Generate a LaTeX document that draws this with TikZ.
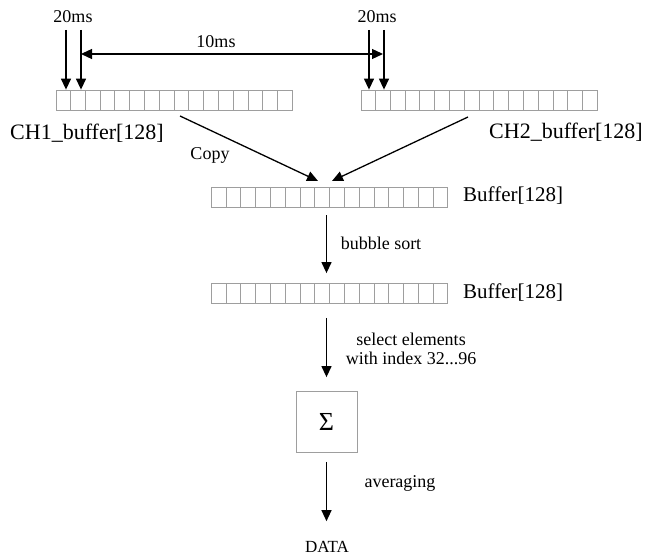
\documentclass[tikz,border=0pt]{standalone}
\usepackage{fontspec}
\setmainfont{Liberation Serif}
\usetikzlibrary{arrows.meta,calc}
\tikzset{
  bufbox/.style={draw=black!38, line width=0.8pt, minimum width=236pt, minimum height=20pt, inner sep=0pt},
  cellline/.style={draw=black!38, line width=0.8pt},
  arr/.style={line width=1.3pt, -{Triangle[length=11pt,width=10pt]}},
  arrb/.style={line width=1.3pt, {Triangle[length=11pt,width=10pt]}-{Triangle[length=11pt,width=10pt]}},
  biglbl/.style={font=\fontsize{22}{24}\selectfont, inner sep=0pt},
  lbl/.style={font=\fontsize{18}{19}\selectfont, inner sep=0pt, align=center},
  sigbox/.style={draw=black!38, line width=0.8pt, minimum size=61pt, inner sep=0pt}
}
\begin{document}
\begin{tikzpicture}[x=1pt,y=-1pt]
\useasboundingbox (0,0) rectangle (651,556);
% buffers
\node[bufbox] (b1) at (174,100) {};
\node[bufbox] (b2) at (479,100) {};
\node[bufbox] (b3) at (329.5,197) {};
\node[bufbox] (b4) at (329.5,293.5) {};
\foreach \b in {b1,b2,b3,b4}{
  \foreach \i in {1,...,15}{
    \draw[cellline] ($(\b.south west)!\i/16!(\b.south east)$) -- ($(\b.north west)!\i/16!(\b.north east)$);
  }
}
% sigma box
\node[sigbox, font=\fontsize{26}{28}\selectfont] (sig) at (326.5,422) {Σ};
% labels
\node[biglbl] (l1) at (87,133) {CH1\_buffer[128]};
\node[biglbl] (l2) at (566,132) {CH2\_buffer[128]};
\node[biglbl, anchor=west, font=\fontsize{21}{23}\selectfont] (l3) at (463,196) {Buffer[128]};
\node[biglbl, anchor=west, font=\fontsize{21}{23}\selectfont] (l4) at (463,293) {Buffer[128]};
\node[lbl] (ms1) at (73,17) {20ms};
\node[lbl] (ms2) at (377,17) {20ms};
\node[lbl] (ms3) at (216,42) {10ms};
\node[lbl] (cp) at (210,155) {Copy};
\node[lbl] (bs) at (381,243) {bubble sort};
\node[lbl] (se) at (411,348.5) {select elements\\with index 32...96};
\node[lbl] (av) at (400,483) {averaging};
\node[lbl, font=\fontsize{17}{18}\selectfont] (data) at (327,547) {DATA};
% timing arrows
\coordinate (t1) at (66,30);
\coordinate (t2) at (81,30);
\coordinate (t3) at (369,30);
\coordinate (t4) at (384,30);
\draw[arr] (t1) -- (t1 |- b1.north);
\draw[arr] (t2) -- (t2 |- b1.north);
\draw[arr] (t3) -- (t3 |- b2.north);
\draw[arr] (t4) -- (t4 |- b2.north);
\coordinate (d1) at (81,54);
\coordinate (d2) at (383,54);
\draw[arrb] (d1) -- (d2);
% copy arrows
\coordinate (c1) at (180,116);
\coordinate (c2) at (468,117);
\coordinate (e1) at (318,181);
\coordinate (e2) at (332,181);
\draw[arr] (c1) -- (e1);
\draw[arr] (c2) -- (e2);
% vertical flow
\draw[arr, shorten <=8pt, shorten >=10pt] (b3.south -| sig.center) -- (b4.north -| sig.center);
\draw[arr, shorten <=14pt, shorten >=14pt] (b4.south -| sig.center) -- (sig.north);
\draw[arr, shorten <=9pt, shorten >=20pt] (sig.south) -- (sig.center |- data.north);
\end{tikzpicture}
\end{document}
